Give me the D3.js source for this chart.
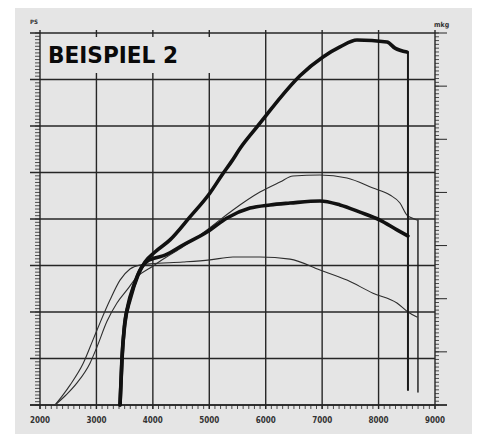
<!DOCTYPE html>
<html>
<head>
<meta charset="utf-8">
<script src="https://cdn.jsdelivr.net/npm/d3@7"></script>
<style>
  body { margin: 0; background: #ffffff; }
  svg { display: block; }
</style>
</head>
<body>
<svg id="chart" width="484" height="434"></svg>
<script>
// ---- data -------------------------------------------------------------
const titleText = "BEISPIEL 2";
const rpmTickLabels = [2000, 3000, 4000, 5000, 6000, 7000, 8000, 9000];
const leftUnit = "PS";
const rightUnit = "mkg";

// thick pair: power (PS) and torque (mkg)
const powerThickRpm = [3418, 3453, 3506, 3595, 3737, 3861, 4038, 4304, 4658, 5012, 5225, 5402, 5544, 5845, 6022, 6253, 6607, 7015, 7316, 7617, 8149, 8291, 8503];
const powerThickPs  = [0, 20.6, 35.3, 45.2, 55.9, 61.5, 65.8, 71.0, 80.9, 91.2, 98.9, 105.0, 110.3, 119.6, 125.0, 132.0, 141.6, 149.7, 154.0, 157.0, 156.1, 153.5, 151.8];

const torqueThickRpm = [3418, 3453, 3489, 3560, 3666, 3772, 3878, 4038, 4215, 4534, 4959, 5314, 5721, 6076, 6430, 6962, 7316, 7670, 8025, 8326, 8521];
const torqueThickMkg = [0, 1.69, 2.82, 3.76, 4.52, 5.08, 5.38, 5.53, 5.64, 6.02, 6.51, 7.04, 7.41, 7.53, 7.60, 7.68, 7.53, 7.26, 6.96, 6.59, 6.36];

// thin pair: power (PS) and torque (mkg)
const powerThinRpm = [2266, 2461, 2656, 2886, 3010, 3187, 3364, 3542, 3719, 3949, 4215, 4534, 4959, 5420, 5898, 6253, 6483, 6962, 7440, 7901, 8202, 8379, 8503, 8592, 8680];
const powerThinPs  = [0, 4.3, 9.5, 18.0, 25.0, 36.0, 43.9, 49.5, 55.1, 58.9, 63.2, 68.0, 75.3, 83.9, 91.6, 95.9, 98.5, 98.9, 97.6, 93.3, 90.3, 86.9, 81.7, 80.4, 79.6];

const torqueThinRpm = [2266, 2408, 2532, 2762, 2939, 3063, 3240, 3418, 3595, 3772, 3949, 4534, 5012, 5420, 5898, 6430, 6962, 7440, 7901, 8326, 8521, 8680];
const torqueThinMkg = [0, 0.38, 0.75, 1.55, 2.45, 3.09, 3.95, 4.70, 5.12, 5.27, 5.31, 5.38, 5.46, 5.57, 5.57, 5.49, 5.08, 4.70, 4.21, 3.84, 3.50, 3.31];

// cut-off drops at the end of each run (PS scale)
const dropRpm      = [8521, 8698];
const dropTopPs    = [151.8, 79.6];
const dropBottomPs = [6.5, 5.6];

// ---- layout -----------------------------------------------------------
const svg = d3.select("#chart");
const plotLeft = 40, plotTop = 33, plotRight = 435, plotBottom = 405;
const ink = "#262626";

const x  = d3.scaleLinear().domain([2000, 9000]).range([plotLeft, plotRight]);
const yP = d3.scaleLinear().domain([0, 160]).range([plotBottom, plotTop]);   // PS
const yM = d3.scaleLinear().domain([0, 14]).range([plotBottom, plotTop]);    // mkg

// paper
svg.append("rect").attr("x", 15).attr("y", 8).attr("width", 457).attr("height", 426)
  .attr("fill", "#e5e5e5");

const g = svg.append("g");

// grid
const psGrid = d3.range(0, 160.01, 20);
g.selectAll("line.hgrid").data(psGrid).join("line")
  .attr("class", "hgrid")
  .attr("x1", plotLeft - 10).attr("x2", plotRight)
  .attr("y1", d => yP(d)).attr("y2", d => yP(d))
  .attr("stroke", ink).attr("stroke-width", 1.4);

g.selectAll("line.vgrid").data(rpmTickLabels).join("line")
  .attr("class", "vgrid")
  .attr("x1", d => x(d)).attr("x2", d => x(d))
  .attr("y1", plotTop - 3).attr("y2", plotBottom + 4)
  .attr("stroke", ink).attr("stroke-width", 1.4);

// left axis minor ticks
const psMinor = d3.range(0, 160.01, 20 / 14);
g.selectAll("line.lminor").data(psMinor).join("line")
  .attr("class", "lminor")
  .attr("x1", plotLeft - 5).attr("x2", plotLeft)
  .attr("y1", d => yP(d)).attr("y2", d => yP(d))
  .attr("stroke", ink).attr("stroke-width", 0.8);

// right axis (mkg)
const mkgMajor = d3.range(0, 14.01, 2);
const mkgMinor = d3.range(0, 14.01, 2 / 14);
g.selectAll("line.rminor").data(mkgMinor).join("line")
  .attr("class", "rminor")
  .attr("x1", plotRight).attr("x2", plotRight + 4)
  .attr("y1", d => yM(d)).attr("y2", d => yM(d))
  .attr("stroke", ink).attr("stroke-width", 0.8);
g.selectAll("line.rmajor").data(mkgMajor).join("line")
  .attr("class", "rmajor")
  .attr("x1", plotRight).attr("x2", plotRight + 12)
  .attr("y1", d => yM(d)).attr("y2", d => yM(d))
  .attr("stroke", ink).attr("stroke-width", 1);

// bottom minor ticks
const rpmMinor = d3.range(2000, 9000.1, 100);
g.selectAll("line.bminor").data(rpmMinor).join("line")
  .attr("class", "bminor")
  .attr("x1", d => x(d)).attr("x2", d => x(d))
  .attr("y1", plotBottom).attr("y2", plotBottom + 4)
  .attr("stroke", ink).attr("stroke-width", 0.8);

// bottom axis line
g.append("line").attr("x1", plotLeft - 10).attr("x2", plotRight + 12)
  .attr("y1", plotBottom).attr("y2", plotBottom)
  .attr("stroke", ink).attr("stroke-width", 1.4);

// rpm labels
g.selectAll("text.rpm").data(rpmTickLabels).join("text")
  .attr("class", "rpm")
  .attr("x", d => x(d)).attr("y", plotBottom + 18)
  .attr("text-anchor", "middle")
  .attr("font-family", "DejaVu Sans Condensed, DejaVu Sans")
  .attr("font-weight", "bold").attr("font-size", 8)
  .attr("fill", "#333")
  .text(d => d);

// unit labels
svg.append("text").attr("x", 30).attr("y", 24)
  .attr("font-family", "DejaVu Sans Condensed, DejaVu Sans").attr("font-weight", "bold")
  .attr("font-size", 6).attr("fill", "#333").text(leftUnit);
svg.append("text").attr("x", 434).attr("y", 27)
  .attr("font-family", "DejaVu Sans Condensed, DejaVu Sans").attr("font-weight", "bold")
  .attr("font-size", 7).attr("fill", "#333").text(rightUnit);

// title block
svg.append("rect").attr("x", 42).attr("y", 37).attr("width", 188).attr("height", 36)
  .attr("fill", "#e5e5e5");
svg.append("text").attr("x", 48).attr("y", 63)
  .attr("font-family", "DejaVu Sans").attr("font-weight", "bold")
  .attr("font-size", 23).attr("fill", "#0a0a0a")
  .attr("textLength", 130).attr("lengthAdjust", "spacingAndGlyphs")
  .text(titleText);

// curves
const zip = (xs, ys) => xs.map((v, i) => [v, ys[i]]);
const curveType = d3.curveMonotoneX;
const lineP = d3.line().x(d => x(d[0])).y(d => yP(d[1])).curve(curveType);
const lineM = d3.line().x(d => x(d[0])).y(d => yM(d[1])).curve(curveType);

const curves = g.append("g").attr("fill", "none")
  .attr("stroke-linejoin", "round").attr("stroke-linecap", "round");

curves.append("path").attr("d", lineP(zip(powerThinRpm, powerThinPs)))
  .attr("stroke", "#2e2e2e").attr("stroke-width", 1.1);
curves.append("path").attr("d", lineM(zip(torqueThinRpm, torqueThinMkg)))
  .attr("stroke", "#2e2e2e").attr("stroke-width", 1.1);

// cut-off drops
curves.selectAll("line.drop").data(dropRpm).join("line")
  .attr("class", "drop")
  .attr("x1", d => x(d)).attr("x2", d => x(d))
  .attr("y1", (d, i) => yP(dropTopPs[i])).attr("y2", (d, i) => yP(dropBottomPs[i]))
  .attr("stroke", "#1a1a1a").attr("stroke-width", (d, i) => i === 0 ? 2 : 1.4);

curves.append("path").attr("d", lineM(zip(torqueThickRpm, torqueThickMkg)))
  .attr("stroke", "#111").attr("stroke-width", 3.6);
curves.append("path").attr("d", lineP(zip(powerThickRpm, powerThickPs)))
  .attr("stroke", "#111").attr("stroke-width", 3.6);
</script>
</body>
</html>
